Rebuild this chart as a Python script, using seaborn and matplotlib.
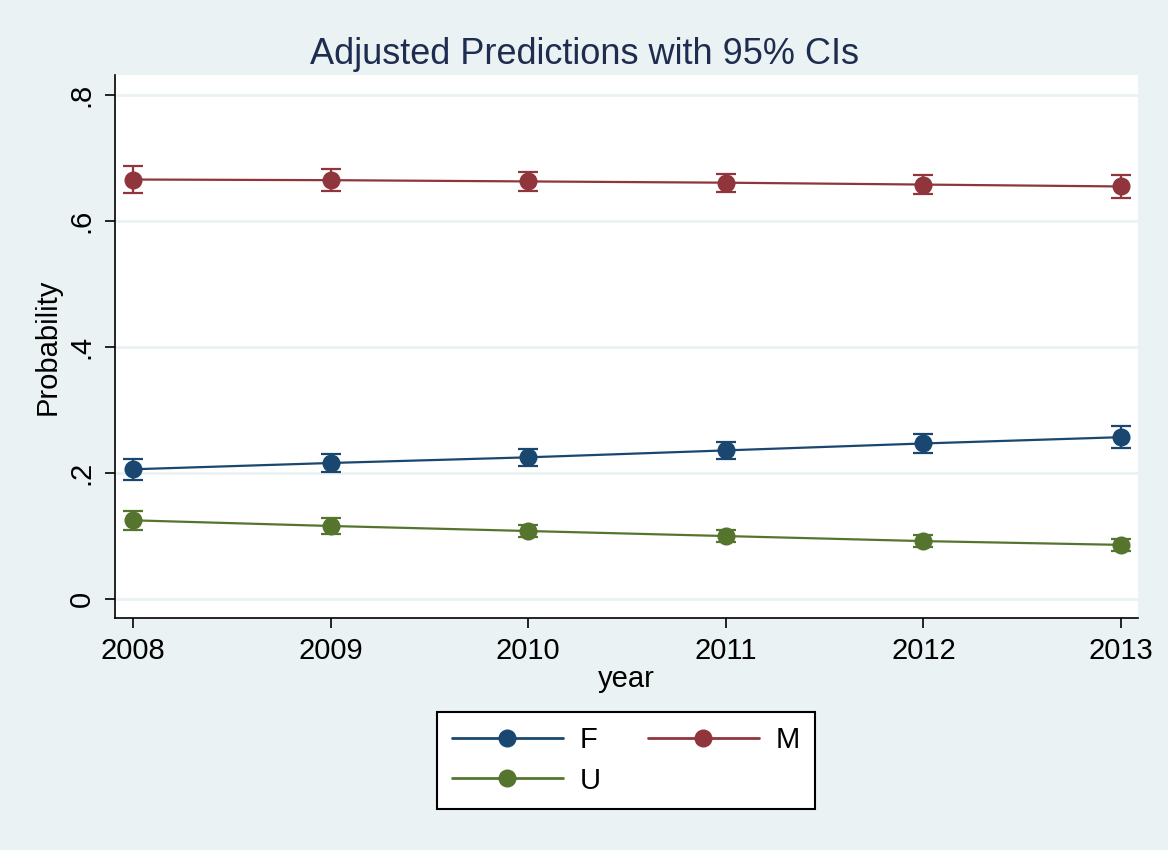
import matplotlib
matplotlib.use("Agg")
import matplotlib.pyplot as plt
import seaborn as sns
import pandas as pd
import numpy as np

years = [2008, 2009, 2010, 2011, 2012, 2013]
f_vals = [0.206, 0.216, 0.225, 0.236, 0.247, 0.257]
f_err = [0.017, 0.015, 0.014, 0.014, 0.015, 0.017]
m_vals = [0.666, 0.665, 0.663, 0.661, 0.658, 0.655]
m_err = [0.021, 0.017, 0.015, 0.014, 0.015, 0.018]
u_vals = [0.125, 0.116, 0.108, 0.100, 0.092, 0.086]
u_err = [0.015, 0.012, 0.010, 0.009, 0.009, 0.009]
groups = ["F", "M", "U"]
colors = {"F": "#1a476f", "M": "#90353b", "U": "#55752f"}

df = pd.DataFrame({
    "year": years * 3,
    "prob": f_vals + m_vals + u_vals,
    "err": f_err + m_err + u_err,
    "group": ["F"] * 6 + ["M"] * 6 + ["U"] * 6,
})

sns.set_theme(style="white")
plt.rcParams['font.family'] = ['Liberation Sans', 'DejaVu Sans']
plt.rcParams['text.color'] = 'black'

fig = plt.figure(figsize=(11.68, 8.5), dpi=100)
fig.patch.set_facecolor("#eaf2f3")
ax = fig.add_axes([0.0985, 0.273, 0.8758, 0.6388])
ax.set_facecolor("white")

for g in groups:
    d = df[df.group == g]
    ax.errorbar(d.year, d.prob, yerr=d.err, fmt="none", ecolor=colors[g],
                elinewidth=1.6, capsize=7, capthick=1.6, zorder=3)

sns.lineplot(data=df, x="year", y="prob", hue="group", palette=colors,
             marker="o", markersize=13, markeredgewidth=0, linewidth=1.6,
             ax=ax, zorder=4, legend=True)

handles, labels = ax.get_legend_handles_labels()
ax.get_legend().remove()

ax.set_xlim(2007.909, 2013.086)
ax.set_ylim(-0.030, 0.832)
ax.set_yticks([0, 0.2, 0.4, 0.6, 0.8])
ax.set_yticklabels(["0", ".2", ".4", ".6", ".8"], rotation=90, va="center")
ax.set_xticks(years)
ax.set_xticklabels([str(y) for y in years])
ax.grid(axis="y", color="#eaf2f3", linewidth=2)
ax.set_axisbelow(True)
for s in ["top", "right"]:
    ax.spines[s].set_visible(False)
for s in ["left", "bottom"]:
    ax.spines[s].set_color("black")
    ax.spines[s].set_linewidth(1.2)
ax.tick_params(axis="both", which="both", direction="out", length=7, width=1.2,
               labelsize=21, colors="black", left=True, bottom=True, pad=7)
ax.set_xlabel("year", fontsize=21, labelpad=0, color="black")
ax.set_ylabel("Probability", fontsize=21, labelpad=4, color="black")
fig.text(0.5, 0.936, "Adjusted Predictions with 95% CIs", fontsize=26,
         color="#1e2d4f", ha="center", va="center")

hmap = dict(zip(labels, handles))
order = ["F", "U", "M"]
leg = fig.legend([hmap[k] for k in order], order, loc="center",
                 bbox_to_anchor=(0.536, 0.1053),
                 ncol=2, fontsize=21, frameon=True, fancybox=False,
                 edgecolor="black", facecolor="white", framealpha=1,
                 handlelength=3.8, columnspacing=1.6,
                 handletextpad=0.6, borderpad=0.5, labelspacing=0.42)
leg.get_frame().set_linewidth(1.5)
for t in leg.get_texts():
    t.set_color("black")
for h in leg.legend_handles:
    h.set_markersize(13)
    h.set_linewidth(2)

fig.savefig("out.png", dpi=100, facecolor=fig.get_facecolor())
